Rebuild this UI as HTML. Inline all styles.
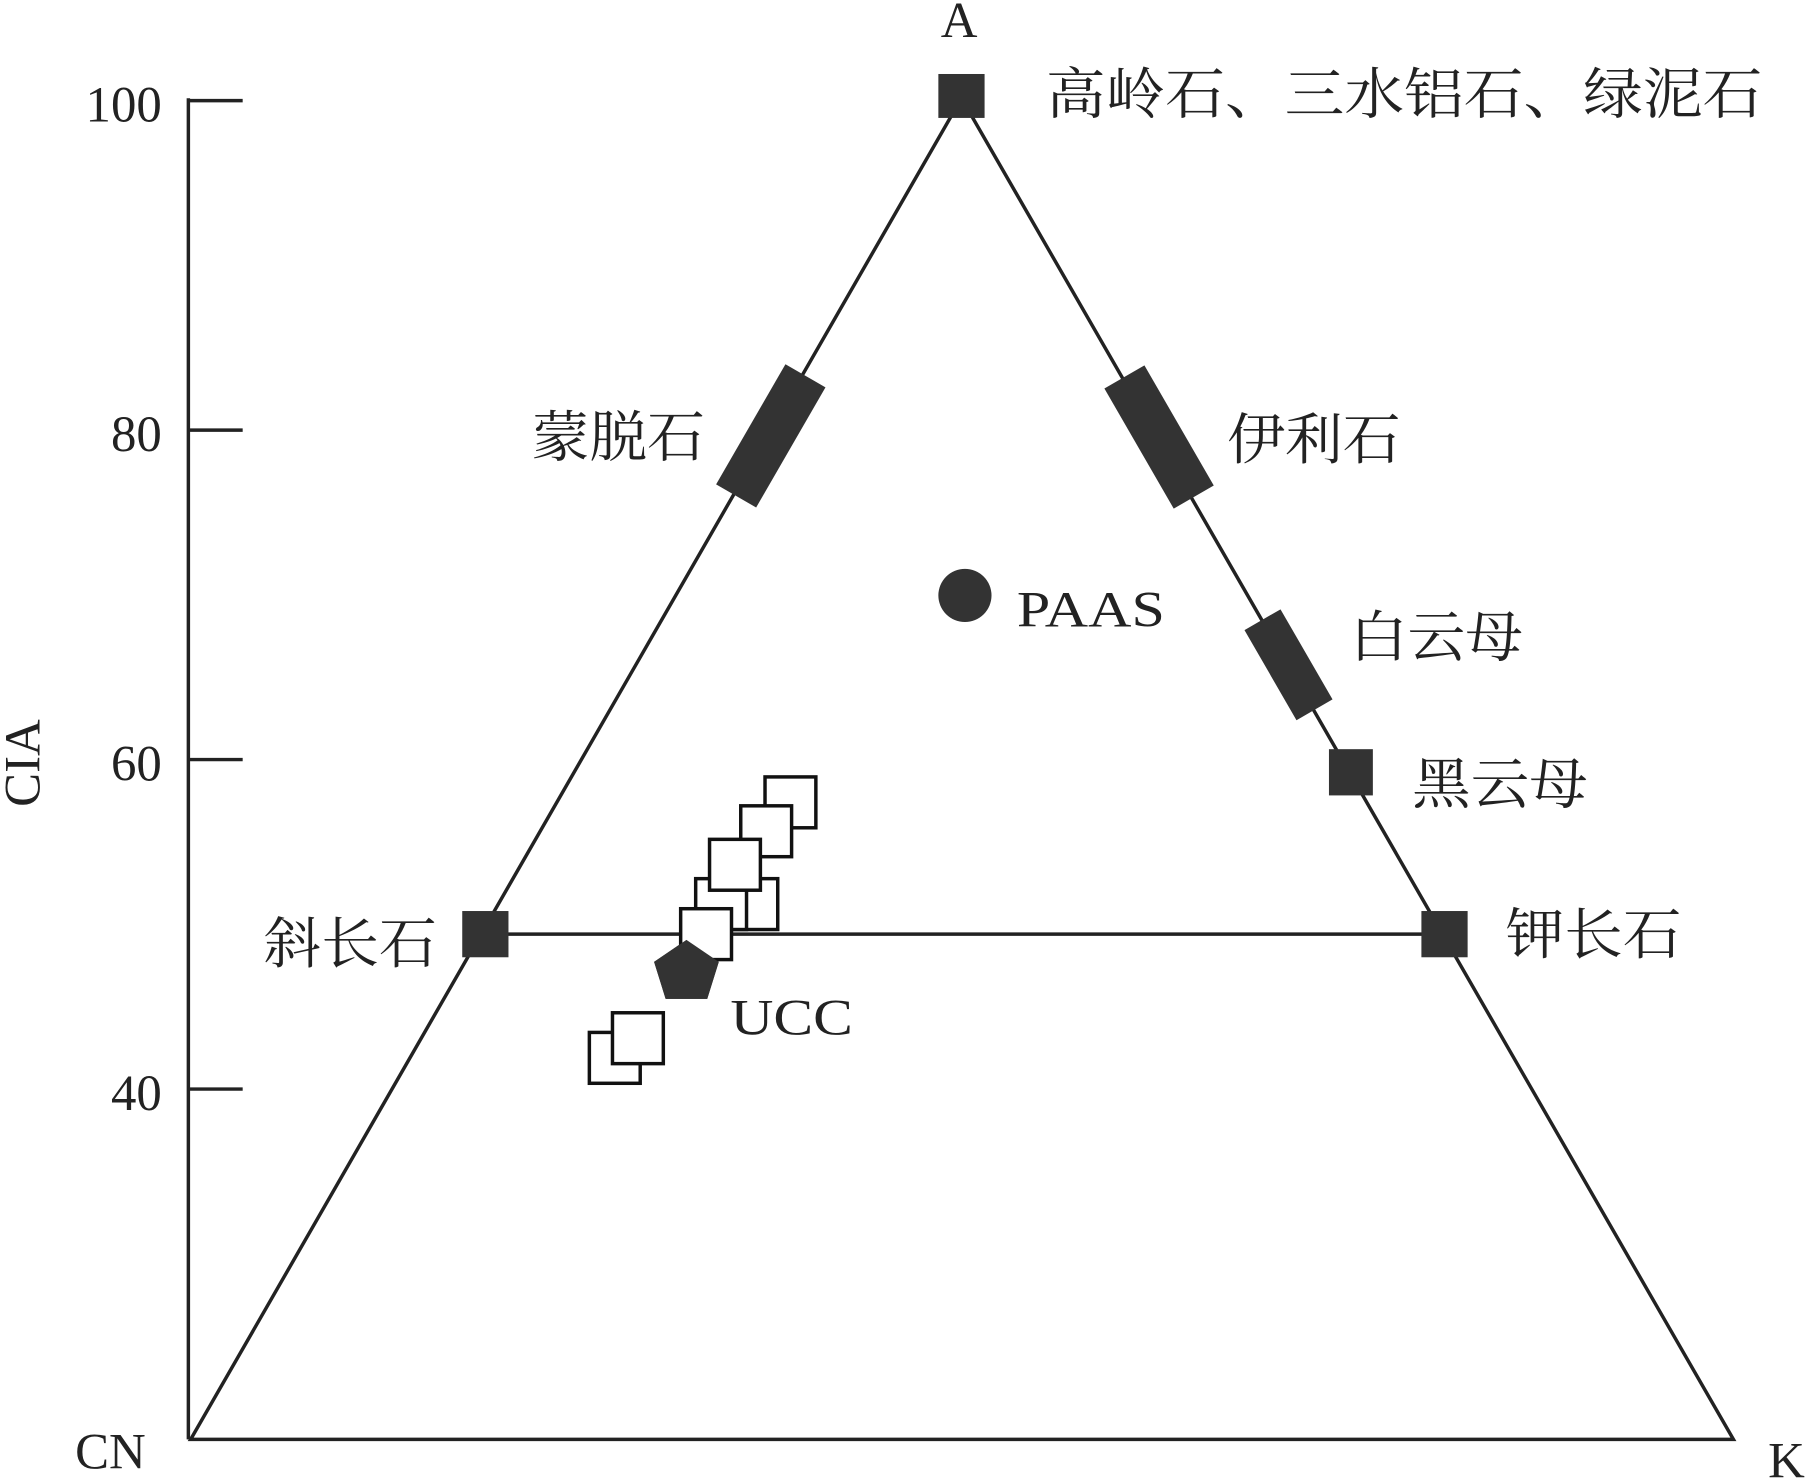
<!DOCTYPE html>
<html><head><meta charset="utf-8"><style>html,body{margin:0;padding:0;background:#fff}svg{display:block}text{font-family:"Liberation Serif","Noto Serif CJK SC",serif;fill:#222}</style></head>
<body>
<svg width="1812" height="1481" viewBox="0 0 1568 1281" preserveAspectRatio="none" xmlns="http://www.w3.org/2000/svg">
<g stroke="#222" stroke-width="3" fill="none">
<polygon points="832,85 165,1245 1500,1245"/>
<line x1="420" y1="808" x2="1250" y2="808"/>
<line x1="163" y1="85" x2="163" y2="1245"/>
<line x1="163" y1="87" x2="210" y2="87"/>
<line x1="163" y1="372" x2="210" y2="372"/>
<line x1="163" y1="657" x2="210" y2="657"/>
<line x1="163" y1="942" x2="210" y2="942"/>
</g>
<g font-size="44" text-anchor="end">
<text x="140" y="105">100</text>
<text x="140" y="390">80</text>
<text x="140" y="675">60</text>
<text x="140" y="960">40</text>
</g>
<text x="0" y="0" font-size="44" transform="translate(34,660) rotate(-90)" text-anchor="middle">CIA</text>
<text x="830" y="32" font-size="44" text-anchor="middle">A</text>
<text x="65" y="1270" font-size="44">CN</text>
<text x="1530" y="1278" font-size="44">K</text>
<g fill="#333">
<rect x="812" y="64" width="40" height="38"/>
<rect x="400" y="788" width="40" height="40"/>
<rect x="1230" y="788" width="40" height="40"/>
<rect x="1150" y="648" width="38" height="40"/>
<rect x="-20" y="-60" width="40" height="120" transform="translate(667,377) rotate(30)"/>
<rect x="-20" y="-60" width="40" height="120" transform="translate(1003,378) rotate(-30)"/>
<rect x="-18" y="-45" width="36" height="90" transform="translate(1115,575) rotate(-30)"/>
<circle cx="835" cy="515" r="23"/>
<polygon points="594,813 622,832 612,864 576,864 566,832"/>
</g>
<g fill="#fff" stroke="#111" stroke-width="3">
<rect x="662" y="672" width="44" height="44"/>
<rect x="641" y="697" width="44" height="44"/>
<rect x="629" y="760" width="44" height="44"/>
<rect x="602" y="760" width="44" height="44"/>
<rect x="614" y="726" width="44" height="44"/>
<rect x="589" y="786" width="44" height="44"/>
<rect x="510" y="893" width="44" height="44"/>
<rect x="530" y="876" width="44" height="44"/>
</g>
<polygon points="594,813 622,832 612,864 576,864 566,832" fill="#333"/>
<g font-size="48">
<text x="905" y="98" textLength="620" lengthAdjust="spacingAndGlyphs">高岭石、三水铝石、绿泥石</text>
<text x="460" y="395" textLength="150" lengthAdjust="spacingAndGlyphs">蒙脱石</text>
<text x="1062" y="397" textLength="150" lengthAdjust="spacingAndGlyphs">伊利石</text>
<text x="1168" y="568" textLength="150" lengthAdjust="spacingAndGlyphs">白云母</text>
<text x="1222" y="695" textLength="152" lengthAdjust="spacingAndGlyphs">黑云母</text>
<text x="228" y="833" textLength="150" lengthAdjust="spacingAndGlyphs">斜长石</text>
<text x="1303" y="825" textLength="152" lengthAdjust="spacingAndGlyphs">钾长石</text>
</g>
<text x="880" y="542" font-size="44" textLength="128" lengthAdjust="spacingAndGlyphs">PAAS</text>
<text x="632" y="895" font-size="44" textLength="106" lengthAdjust="spacingAndGlyphs">UCC</text>
</svg>
</body></html>
